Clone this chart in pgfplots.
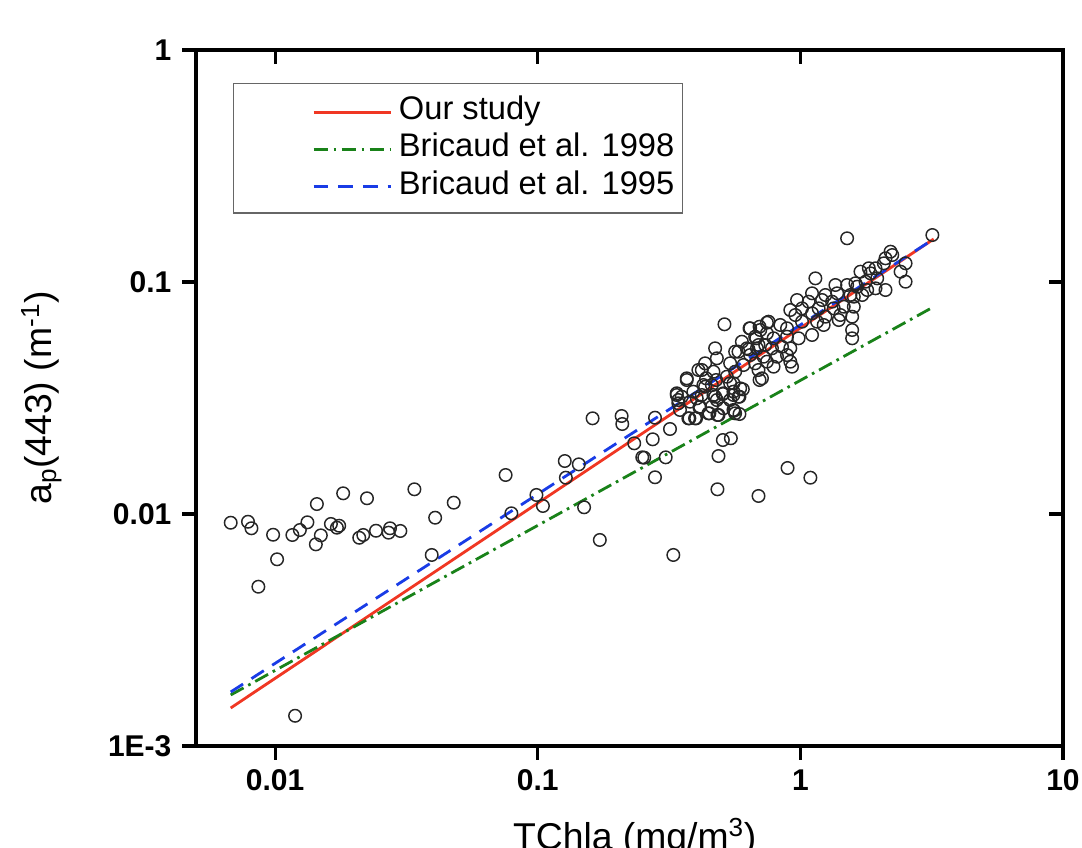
\documentclass[border=0pt]{standalone}
\usepackage{fontspec}
\setmainfont{Liberation Sans}
\usepackage{pgfplots}
\usepackage{pgfplotstable}
\pgfplotsset{compat=1.18}
\definecolor{cred}{RGB}{240,55,35}
\definecolor{cgreen}{RGB}{25,130,25}
\definecolor{cblue}{RGB}{25,60,230}

\pgfplotstableread{
x y
0.00678 0.00917
0.00789 0.00926
0.00813 0.00868
0.00864 0.00486
0.00983 0.00814
0.01018 0.00638
0.01164 0.00812
0.01243 0.00853
0.01328 0.00921
0.01443 0.01104
0.01494 0.00809
0.0143 0.0074
0.01632 0.00906
0.01755 0.0089
0.0172 0.00873
0.01817 0.01228
0.02092 0.0079
0.02167 0.00812
0.02239 0.01169
0.02423 0.00847
0.02706 0.00831
0.0274 0.00868
0.030 0.00845
0.03393 0.01278
0.0407 0.00964
0.0395 0.00666
0.0479 0.01119
0.01192 0.00135
0.0755 0.01473
0.0794 0.01007
0.0989 0.01208
0.1047 0.01083
0.1268 0.01692
0.128 0.01434
0.1434 0.01637
0.1502 0.01069
0.1724 0.00773
0.1618 0.02585
0.2087 0.02645
0.2099 0.02443
0.2331 0.02017
0.2501 0.01755
0.2545 0.01749
0.2741 0.02099
0.2797 0.02601
0.2797 0.0144
0.3072 0.01755
0.319 0.02325
0.3284 0.00666
0.3483 0.02808
0.378 0.02585
0.401 0.02585
0.3384 0.03258
0.3695 0.03781
0.488 0.01778
0.4835 0.01278
0.507 0.02084
0.5438 0.0212
0.5598 0.02789
0.5865 0.02698
0.693 0.01196
0.894 0.01579
1.092 0.01434
0.4506 0.02716
0.4835 0.02672
0.4127 0.02884
0.4669 0.03258
0.507 0.0329
0.5564 0.03258
0.5865 0.03203
0.604 0.03447
0.5564 0.03659
0.6995 0.03781
0.4275 0.03597
0.4034 0.03152
0.3432 0.031
0.5142 0.06573
0.6405 0.06316
0.6995 0.06417
0.746 0.06678
0.6793 0.05719
0.599 0.0553
0.5647 0.05008
0.5814 0.05008
0.635 0.05128
0.6834 0.05179
0.735 0.0535
0.4738 0.05179
0.481 0.0469
0.4339 0.04463
0.4091 0.04176
0.4215 0.04176
0.4669 0.04106
0.5404 0.04463
0.5647 0.04106
0.6076 0.04388
0.6732 0.04463
0.693 0.04176
0.7143 0.03845
0.3695 0.03845
0.4378 0.03845
0.478 0.03781
0.525 0.03907
0.5404 0.03659
0.4603 0.03597
0.4339 0.03537
0.3384 0.03314
0.3535 0.03203
0.3914 0.03367
0.4215 0.03258
0.4738 0.03203
0.5097 0.03314
0.5564 0.03367
0.5902 0.03482
0.5814 0.03203
0.5404 0.031
0.481 0.031
0.3432 0.030
0.3804 0.03048
0.4153 0.02901
0.4603 0.02901
0.5097 0.02855
0.5564 0.02808
0.4467 0.02716
0.488 0.02672
0.3747 0.02585
0.3974 0.02585
0.5647 0.02716
1.507 0.1543
1.141 0.1037
1.694 0.1108
1.823 0.1146
1.36 0.09707
1.507 0.09707
1.621 0.09872
1.108 0.08939
1.246 0.0879
1.381 0.08939
1.552 0.0879
1.72 0.0879
0.9714 0.08363
1.076 0.08224
1.21 0.08363
1.321 0.08224
1.015 0.077
1.174 0.077
1.34 0.077
1.463 0.07825
1.598 0.07825
0.9158 0.07574
0.957 0.07208
1.108 0.07331
1.246 0.07087
1.421 0.07208
1.575 0.07087
1.015 0.06745
1.158 0.06745
1.227 0.06528
1.4 0.06859
0.8897 0.06316
0.7568 0.06745
0.8387 0.06528
0.6443 0.06316
0.7037 0.06211
0.6732 0.05811
0.746 0.06011
0.7909 0.05719
0.8897 0.05811
0.985 0.05719
1.108 0.05911
1.575 0.06211
1.575 0.05719
0.6258 0.05179
0.693 0.0535
0.7798 0.05179
0.8515 0.05262
0.9158 0.05179
0.6443 0.04844
0.7245 0.04764
0.8149 0.04764
0.8897 0.04844
0.746 0.04535
0.9158 0.04535
0.9296 0.04315
0.7909 0.04315
3.182 0.1594
2.205 0.1351
2.11 0.1265
2.079 0.1204
2.239 0.1307
2.516 0.1204
2.408 0.1108
2.516 0.1003
1.933 0.1146
1.85 0.109
1.962 0.1037
1.771 0.1003
1.933 0.09393
2.11 0.09236
1.797 0.09236
1.646 0.09545
1.598 0.08642
}\scatterdata

\begin{document}
\begin{tikzpicture}
\path[use as bounding box] (-147pt,-75.75pt) rectangle (664.5pt,559.5pt);
\begin{axis}[
  at={(0pt,0pt)}, anchor=south west,
  scale only axis, width=650.25pt, height=522pt,
  xmode=log, ymode=log,
  xmin=0.005, xmax=10, ymin=0.001, ymax=1,
  xtick={0.01,0.1,1,10}, xticklabels={0.01,0.1,1,10},
  ytick={0.001,0.01,0.1,1}, yticklabels={1E-3,0.01,0.1,1},
  xminorticks=false, yminorticks=false,
  tick align=outside, tick pos=left,
  major tick length=10.5pt,
  axis line style={line width=2.3pt},
  every tick/.style={black, line width=2.3pt},
  ticklabel style={font=\fontsize{22.5}{25}\selectfont\bfseries},
  xticklabel style={yshift=-4pt},
  yticklabel style={xshift=-4.5pt},
  xlabel={TChla (mg/m\textsuperscript{3})},
  ylabel={a\textsubscript{p}(443) (m\textsuperscript{-1})},
  label style={font=\fontsize{28}{32}\selectfont},
  xlabel style={at={(axis description cs:0.506,-0.148)}, anchor=base},
  ylabel style={at={(axis description cs:-0.1776,0.5)}, anchor=center},
  legend style={at={(axis description cs:0.04268,0.95259)}, anchor=north west,
    draw=black!60, line width=0.9pt, fill=white,
    inner xsep=6pt, inner ysep=9pt, row sep=5pt,
    font=\fontsize{24.5}{28}\selectfont,
    nodes={inner sep=0pt, text height=18pt, text depth=5pt}},
  legend image code/.code={\path[draw=none,fill=none] (0pt,0pt) -- (118pt,0pt); \draw[#1, line width=2.3pt] (54pt,-1pt) -- (111.75pt,-1pt);},
  legend cell align=left,
]
\addplot[only marks, mark=o, mark size=4.7pt, mark options={line width=1.1pt, draw=black!85}, forget plot] table[x=x,y=y] {\scatterdata};
\addplot[cred, line width=2.1pt] coordinates {(0.00678,0.001459) (3.219,0.1532)};
\addlegendentry{Our study}
\addplot[cgreen, line width=2.1pt, dash pattern=on 11pt off 4pt on 2pt off 4pt] coordinates {(0.00678,0.00166) (3.219,0.0782)};
\addlegendentry{Bricaud et al. 1998}
\addplot[cblue, line width=2.1pt, dash pattern=on 11pt off 7.5pt] coordinates {(0.00678,0.00171) (3.219,0.1532)};
\addlegendentry{Bricaud et al. 1995}
\end{axis}
\begin{axis}[
  at={(0pt,0pt)}, anchor=south west,
  scale only axis, width=650.25pt, height=522pt,
  xmode=log, ymode=log,
  xmin=0.005, xmax=10, ymin=0.001, ymax=1,
  xtick={0.01,0.1,1,10}, ytick={0.001,0.01,0.1,1},
  xticklabels={}, yticklabels={},
  xminorticks=false, yminorticks=false,
  tick align=inside, tick pos=right,
  major tick length=10.5pt,
  axis line style={draw=none},
  every tick/.style={black, line width=2.3pt},
]
\end{axis}
\end{tikzpicture}
\end{document}
